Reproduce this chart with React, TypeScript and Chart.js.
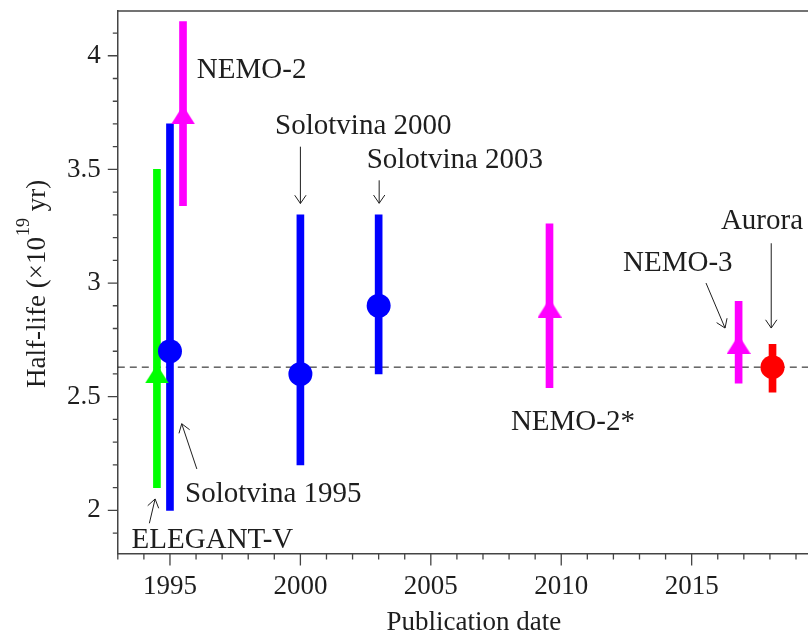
import React, { useEffect, useRef } from 'react';
import { Chart, registerables } from 'chart.js';

Chart.register(...registerables);

// ---- data ----
const experiments = ['ELEGANT-V', 'Solotvina 1995', 'NEMO-2', 'Solotvina 2000', 'Solotvina 2003', 'NEMO-2*', 'NEMO-3', 'Aurora'];
const publicationYear = [1994.5, 1995.0, 1995.5, 2000.0, 2003.0, 2009.55, 2016.8, 2018.1];
const halfLife = [2.6, 2.7, 3.74, 2.6, 2.9, 2.89, 2.73, 2.63];
const errLow = [2.1, 2.0, 3.34, 2.2, 2.6, 2.54, 2.56, 2.52];
const errHigh = [3.5, 3.7, 4.15, 3.3, 3.3, 3.26, 2.92, 2.73];
const markerShape = ['triangle', 'circle', 'triangle', 'circle', 'circle', 'triangle', 'triangle', 'circle'];
const markerColor = ['#00ff00', '#0000ff', '#ff00ff', '#0000ff', '#0000ff', '#ff00ff', '#ff00ff', '#ff0000'];
const referenceHalfLife = 2.63;

const X_MIN = 1993;
const X_MAX = 2019.46;
const Y_MIN = 1.81;
const Y_MAX = 4.197;
const X_MAJOR_STEP = 5;
const Y_MAJOR_STEP = 0.5;

// annotation labels: text position (data coords, left/baseline) and optional arrow (data coords)
const labelText = ['NEMO-2', 'Solotvina 2000', 'Solotvina 2003', 'NEMO-2*', 'NEMO-3', 'Aurora', 'Solotvina 1995', 'ELEGANT-V'];
const labelX = [1996.03, 1999.03, 2002.54, 2008.07, 2012.37, 2016.12, 1995.58, 1993.53];
const labelY = [3.903, 3.655, 3.505, 2.354, 3.053, 3.237, 2.035, 1.834];
const arrowFrom: (number[] | null)[] = [null, [2000.0, 3.6], [2003.02, 3.452], null, [2015.55, 3.0], [2018.05, 3.175], [1996.03, 2.182], [1994.21, 1.943]];
const arrowTo: (number[] | null)[] = [null, [2000.0, 3.35], [2003.02, 3.351], null, [2016.28, 2.802], [2018.05, 2.802], [1995.45, 2.381], [1994.43, 2.05]];

const FONT = "'Liberation Serif', 'Times New Roman', serif";
const TEXT_COLOR = '#1e1e1e';
const AXIS_COLOR = '#444';

function makeTriangle(color: string) {
  const c = document.createElement('canvas');
  c.width = 24;
  c.height = 19;
  const g = c.getContext('2d')!;
  g.fillStyle = color;
  g.beginPath();
  g.moveTo(12, 0);
  g.lineTo(24, 19);
  g.lineTo(0, 19);
  g.closePath();
  g.fill();
  return c;
}

const decorations = {
  id: 'decorations',
  afterDatasetsDraw(chart: any) {
    const { ctx, chartArea } = chart;
    const x = chart.scales.x;
    const y = chart.scales.y;
    ctx.save();
    // top frame line
    ctx.strokeStyle = AXIS_COLOR;
    ctx.lineWidth = 1.5;
    ctx.beginPath();
    ctx.moveTo(chartArea.left - 0.75, chartArea.top);
    ctx.lineTo(chartArea.right, chartArea.top);
    ctx.stroke();

    // tick marks
    ctx.lineWidth = 1.3;
    ctx.beginPath();
    x.ticks.forEach((t: any) => {
      const px = x.getPixelForValue(t.value);
      const major = Math.abs(t.value / X_MAJOR_STEP - Math.round(t.value / X_MAJOR_STEP)) < 1e-6;
      ctx.moveTo(px, chartArea.bottom);
      ctx.lineTo(px, chartArea.bottom + (major ? 12 : 6));
    });
    y.ticks.forEach((t: any) => {
      const py = y.getPixelForValue(t.value);
      const major = Math.abs(t.value / Y_MAJOR_STEP - Math.round(t.value / Y_MAJOR_STEP)) < 1e-6;
      ctx.moveTo(chartArea.left, py);
      ctx.lineTo(chartArea.left - (major ? 10 : 5), py);
    });
    ctx.stroke();

    // annotations
    ctx.fillStyle = TEXT_COLOR;
    ctx.strokeStyle = TEXT_COLOR;
    ctx.font = `29px ${FONT}`;
    ctx.textAlign = 'left';
    ctx.textBaseline = 'alphabetic';
    labelText.forEach((txt, i) => {
      ctx.fillText(txt, x.getPixelForValue(labelX[i]), y.getPixelForValue(labelY[i]));
      const f = arrowFrom[i];
      const to = arrowTo[i];
      if (f && to) {
        const x1 = x.getPixelForValue(f[0]);
        const y1 = y.getPixelForValue(f[1]);
        const x2 = x.getPixelForValue(to[0]);
        const y2 = y.getPixelForValue(to[1]);
        const ang = Math.atan2(y2 - y1, x2 - x1);
        const hl = 10;
        const ha = 0.6;
        ctx.lineWidth = 1;
        ctx.beginPath();
        ctx.moveTo(x1, y1);
        ctx.lineTo(x2, y2);
        ctx.moveTo(x2 - hl * Math.cos(ang - ha), y2 - hl * Math.sin(ang - ha));
        ctx.lineTo(x2, y2);
        ctx.lineTo(x2 - hl * Math.cos(ang + ha), y2 - hl * Math.sin(ang + ha));
        ctx.stroke();
      }
    });

    // x axis title
    ctx.font = `27px ${FONT}`;
    ctx.textAlign = 'center';
    ctx.fillText('Publication date', (chartArea.left + chartArea.right) / 2 + 11, 630);

    // y axis title (rotated, with superscript)
    ctx.save();
    ctx.translate(45, 388);
    ctx.rotate(-Math.PI / 2);
    ctx.textAlign = 'left';
    ctx.font = `27px ${FONT}`;
    const p1 = 'Half-life (×10';
    ctx.fillText(p1, 0, 0);
    let w = ctx.measureText(p1).width;
    ctx.font = `18px ${FONT}`;
    ctx.fillText('19', w + 1, -16);
    w += ctx.measureText('19').width + 1;
    ctx.font = `27px ${FONT}`;
    ctx.fillText(' yr)', w, 0);
    ctx.restore();

    ctx.restore();
  },
};

export default function App() {
  const ref = useRef<HTMLCanvasElement | null>(null);

  useEffect(() => {
    if (!ref.current) return;
    const pointStyles = markerShape.map((s, i) => (s === 'circle' ? 'circle' : makeTriangle(markerColor[i])));
    const chart = new Chart(ref.current, {
      type: 'scatter',
      data: {
        datasets: [
          {
            type: 'scatter',
            label: 'Half-life',
            data: publicationYear.map((xv, i) => ({ x: xv, y: halfLife[i] })),
            pointStyle: pointStyles as any,
            pointRadius: 12,
            pointHoverRadius: 12,
            pointBackgroundColor: markerColor,
            pointBorderColor: markerColor,
            pointBorderWidth: 0,
            order: 1,
          } as any,
          {
            type: 'bar',
            label: 'Uncertainty',
            data: publicationYear.map((xv, i) => ({ x: xv, y: [errLow[i], errHigh[i]] })),
            backgroundColor: markerColor,
            borderWidth: 0,
            barThickness: 7,
            order: 2,
          } as any,
          {
            type: 'line',
            label: 'Reference',
            data: [
              { x: X_MIN, y: referenceHalfLife },
              { x: X_MAX, y: referenceHalfLife },
            ],
            borderColor: '#111',
            borderWidth: 1,
            borderDash: [7, 5],
            pointRadius: 0,
            fill: false,
            order: 3,
          } as any,
        ],
      },
      options: {
        responsive: false,
        animation: false,
        devicePixelRatio: 1,
        layout: { autoPadding: false, padding: { top: 11, right: 0, left: 0, bottom: 0 } },
        plugins: { legend: { display: false }, tooltip: { enabled: false } },
        events: [],
        scales: {
          x: {
            type: 'linear',
            min: X_MIN,
            max: X_MAX,
            offset: false,
            grid: { display: false, drawTicks: false, offset: false },
            border: { display: true, color: AXIS_COLOR, width: 1.5 },
            ticks: {
              stepSize: 1,
              includeBounds: false,
              autoSkip: false,
              maxRotation: 0,
              padding: 17,
              color: TEXT_COLOR,
              font: { family: FONT, size: 27 },
              callback: (v: any) => (Math.abs(v / X_MAJOR_STEP - Math.round(v / X_MAJOR_STEP)) < 1e-6 ? String(v) : ''),
            },
            afterFit: (s: any) => {
              s.height = 77.5;
              s.paddingLeft = 0;
              s.paddingRight = 0;
              s.paddingTop = 0;
              s.paddingBottom = 0;
            },
          },
          y: {
            type: 'linear',
            min: Y_MIN,
            max: Y_MAX,
            grid: { display: false, drawTicks: false },
            border: { display: true, color: AXIS_COLOR, width: 1.5 },
            ticks: {
              stepSize: 0.1,
              includeBounds: false,
              autoSkip: false,
              padding: 17,
              color: TEXT_COLOR,
              font: { family: FONT, size: 27 },
              callback: (v: any) =>
                Math.abs(v / Y_MAJOR_STEP - Math.round(v / Y_MAJOR_STEP)) < 1e-6 ? String(Math.round(v * 10) / 10) : '',
            },
            afterFit: (s: any) => {
              s.width = 117.8;
              s.paddingLeft = 0;
              s.paddingRight = 0;
              s.paddingTop = 0;
              s.paddingBottom = 0;
            },
          },
        },
      } as any,
      plugins: [decorations],
    });
    return () => chart.destroy();
  }, []);

  return (
    <div style={{ position: 'absolute', left: 0, top: 0, width: 808, height: 631, background: '#fff' }}>
      <canvas ref={ref} width={808} height={631} style={{ display: 'block', width: 808, height: 631 }} />
    </div>
  );
}
